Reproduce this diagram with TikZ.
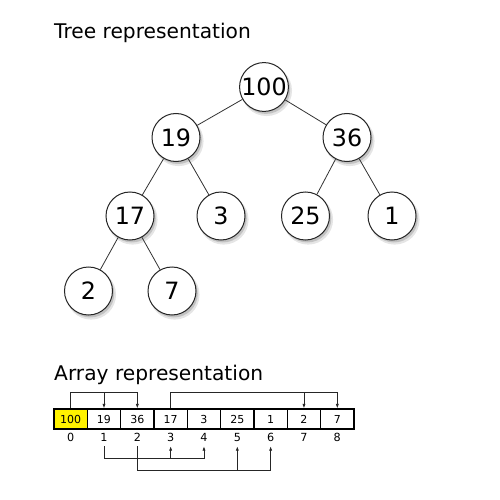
\documentclass[tikz,border=0pt]{standalone}
\usepackage{fontspec}
\setmainfont{DejaVu Sans}
\usetikzlibrary{arrows.meta,shadows}
\begin{document}
\begin{tikzpicture}[x=1pt,y=-1pt,
  tn/.style={circle, draw=black!85, line width=1pt, fill=white, minimum size=48pt, inner sep=0pt,
    font=\fontsize{23.8}{24}\selectfont,
    drop shadow={shadow xshift=2.5pt, shadow yshift=-3.5pt, shadow scale=1.04, opacity=0.10, fill=black},
    drop shadow={shadow xshift=1.8pt, shadow yshift=-2.5pt, opacity=0.15, fill=black}},
  edge/.style={draw=black!80, line width=0.8pt},
  cell/.style={rectangle, draw=black, line width=1.2pt, minimum width=33.33pt, minimum height=20pt, inner sep=0pt,
    font=\fontsize{11}{12}\selectfont},
  idx/.style={inner sep=0pt, minimum height=18pt, font=\fontsize{11.2}{12}\selectfont},
  title/.style={anchor=base west, inner sep=0pt, font=\fontsize{20.2}{22}\selectfont},
  arr/.style={draw=black!85, line width=0.8pt, -{Latex[length=4.5pt,width=3.2pt]}}]
\useasboundingbox (0,0) rectangle (500,500);
\fill[white] (0,0) rectangle (500,500);

\node[title] (t1) at (54,38.3) {Tree representation};
\node[title] (t2) at (54,380.5) {Array representation};

% tree
\node[tn] (n100) at (264,87) {100};
\node[tn] (n19) at (176,137.5) {19};
\node[tn] (n36) at (347,137.5) {36};
\node[tn] (n17) at (130,216) {17};
\node[tn] (n3) at (221,216) {3};
\node[tn] (n25) at (305.5,216) {25};
\node[tn] (n1) at (392,216) {1};
\node[tn] (n2) at (88.5,291) {2};
\node[tn] (n7) at (172,291) {7};
\draw[edge] (n100) -- (n19);
\draw[edge] (n100) -- (n36);
\draw[edge] (n19) -- (n17);
\draw[edge] (n19) -- (n3);
\draw[edge] (n36) -- (n25);
\draw[edge] (n36) -- (n1);
\draw[edge] (n17) -- (n2);
\draw[edge] (n17) -- (n7);

% array
\foreach \v [count=\i from 0] in {100,19,36,17,3,25,1,2,7}{
  \node[cell] (c\i) at ({54+33.33*(\i+0.5)},419) {\v};
  \node[idx] (i\i) at ({54+33.33*(\i+0.5)},437) {\i};
}
\fill[yellow] (c0.south west) rectangle (c0.north east);
\node[cell] at (c0) {100};

\coordinate (top) at (0,392);
\coordinate (bota) at (0,458.5);
\coordinate (botb) at (0,470);

\draw[arr] (c0.north) |- (top -| c2.north) -- (c2.north);
\draw[arr] (top -| c1.north) -- (c1.north);
\draw[arr] (c3.north) |- (top -| c8.north) -- (c8.north);
\draw[arr] (top -| c7.north) -- (c7.north);

\draw[arr] (i1.south) |- (bota -| i4.south) -- (i4.south);
\draw[arr] (bota -| i3.south) -- (i3.south);
\draw[arr] (i2.south) |- (botb -| i6.south) -- (i6.south);
\draw[arr] (botb -| i5.south) -- (i5.south);
\end{tikzpicture}
\end{document}
